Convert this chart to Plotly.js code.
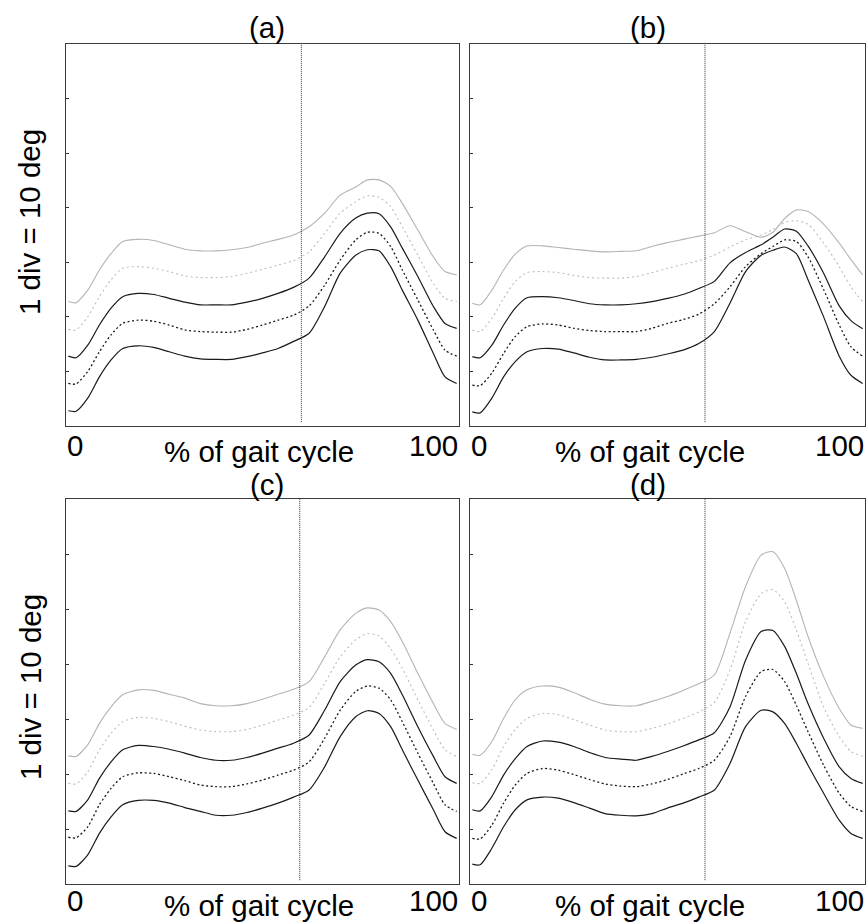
<!DOCTYPE html>
<html>
<head>
<meta charset="utf-8">
<script src="https://cdn.plot.ly/plotly-3.0.1.min.js"></script>
<style>html,body{margin:0;padding:0;background:#fff;}#chart{width:866px;height:922px;}</style>
</head>
<body>
<div id="chart"></div>
<script>
// % of gait cycle sample points
const pct = [0, 2, 5, 8, 11, 14, 18, 22, 26, 30, 34, 38, 42, 46, 50, 54, 58, 62, 66, 70, 74, 77, 80, 83, 86, 90, 94, 97, 100];

// Panel (a)
const a_grayUpper  = [22.8,22.6,24.9,28.6,31.6,33.8,34.2,34.0,33.2,32.4,32.1,32.1,32.3,32.7,33.5,34.2,35.0,36.5,39.0,42.3,43.8,45.1,45.1,43.9,40.8,35.9,31.0,28.3,27.7];
const a_grayMean   = [17.7,17.6,20.0,23.7,26.8,28.9,29.2,28.9,28.3,27.5,27.2,27.2,27.4,28.0,28.7,29.5,30.3,31.9,35.3,39.0,41.1,42.2,41.9,40.2,36.5,31.3,26.1,23.4,22.8];
const a_blackUpper = [12.8,12.5,14.8,18.5,21.6,23.7,24.3,24.1,23.4,22.7,22.2,22.2,22.2,22.7,23.4,24.3,25.4,27.1,31.0,35.3,38.1,39.0,38.9,36.5,32.6,27.4,21.9,18.8,17.9];
const a_blackMean  = [7.8,7.7,10.0,13.6,16.7,18.8,19.4,19.2,18.5,17.6,17.3,17.2,17.2,17.7,18.5,19.4,20.3,22.0,25.8,30.4,34.1,35.5,35.3,32.9,28.6,23.1,17.6,13.9,12.8];
const a_blackLower = [2.8,2.7,5.1,9.0,12.1,14.2,14.7,14.4,13.6,12.8,12.3,12.2,12.2,12.7,13.4,14.2,15.5,17.0,21.9,28.0,31.3,32.3,32.1,29.2,24.9,19.4,13.3,9.0,7.8];

// Panel (b)
const b_grayUpper  = [22.5,22.2,24.9,28.6,31.5,33.0,33.0,32.7,32.4,32.1,31.9,32.0,32.1,32.9,33.6,34.2,34.8,35.4,36.7,35.6,34.6,35.5,38.0,39.6,39.3,37.0,33.5,30.5,27.7];
const b_grayMean   = [17.6,17.3,19.7,23.4,26.5,28.1,28.3,28.1,27.6,27.2,27.1,27.1,27.4,28.1,28.9,29.6,30.3,31.3,32.8,34.1,35.0,36.0,37.3,37.6,37.0,33.5,29.2,25.5,22.8];
const b_blackUpper = [12.7,12.5,14.8,18.5,21.6,23.5,23.7,23.5,23.0,22.4,22.2,22.2,22.4,22.8,23.4,24.1,25.2,26.5,29.9,31.8,33.2,34.6,36.1,35.7,33.0,28.0,22.0,19.3,17.8];
const b_blackMean  = [7.5,7.4,9.7,13.3,16.4,18.2,18.7,18.5,17.9,17.5,17.3,17.3,17.3,17.9,18.8,19.5,20.5,22.4,25.5,29.2,31.6,32.9,34.1,33.8,31.0,25.0,18.5,14.5,12.8];
const b_blackLower = [2.6,2.4,5.1,9.0,11.8,13.6,14.2,14.1,13.4,12.6,12.1,12.1,12.2,12.6,13.2,13.9,15.1,17.3,22.5,28.3,31.3,32.2,32.8,31.6,26.8,20.0,12.8,9.3,7.8];

// Panel (c)
const c_grayUpper  = [23.3,23.2,25.3,29.2,32.2,34.4,35.3,35.2,34.5,33.8,32.8,32.4,32.4,32.8,33.6,34.5,35.4,36.8,41.3,46.2,49.2,50.2,49.8,47.7,44.1,38.3,32.8,29.2,28.1];
const c_grayMean   = [18.3,18.2,20.4,24.4,27.4,29.5,30.3,30.1,29.5,28.7,28.0,27.7,27.7,28.1,28.9,29.8,30.7,32.1,36.5,41.3,44.4,45.5,45.1,42.8,39.2,33.5,28.0,24.4,23.2];
const c_blackUpper = [13.3,13.2,15.3,19.2,22.2,24.4,25.2,25.0,24.5,23.8,23.0,22.5,22.5,23.0,23.8,24.7,25.6,27.1,31.6,36.8,39.8,40.8,40.4,38.3,34.4,28.6,23.2,19.5,18.3];
const c_blackMean  = [8.5,8.4,10.4,14.4,17.4,19.5,20.2,20.1,19.5,18.8,18.0,17.7,17.7,18.2,18.9,19.8,20.7,22.2,26.5,31.6,35.0,36.0,35.6,33.5,29.5,23.8,18.3,14.4,13.2];
const c_blackLower = [3.3,3.2,5.3,9.2,12.2,14.4,15.2,15.2,14.7,13.9,13.2,12.5,12.5,13.0,13.8,14.7,15.8,17.1,21.3,26.8,30.4,31.5,31.0,28.6,24.4,18.9,13.5,9.5,8.3];

// Panel (d)
const d_grayUpper  = [23.6,23.4,25.9,30.1,33.5,35.3,36.0,35.8,34.8,33.6,32.7,32.4,32.4,33.2,34.1,35.2,36.4,38.0,45.6,54.1,59.8,60.4,57.4,51.6,45.0,37.7,31.9,28.9,28.3];
const d_grayMean   = [18.4,18.3,20.8,25.0,28.1,30.1,31.0,30.8,29.9,28.9,28.0,27.7,27.7,28.3,29.1,30.1,31.3,33.0,38.9,47.7,52.8,53.5,51.3,46.2,40.1,32.2,26.8,24.1,23.2];
const d_blackUpper = [13.5,13.3,15.9,19.8,22.8,25.0,26.0,25.8,25.0,23.9,23.0,22.7,22.5,23.2,24.1,25.1,26.2,27.5,32.2,40.7,45.9,46.1,43.2,38.3,32.8,26.5,21.3,19.2,18.3];
const d_blackMean  = [8.3,8.2,10.7,14.7,18.0,20.1,21.0,20.7,19.9,19.0,18.2,17.8,17.7,18.2,19.0,20.0,21.0,22.5,26.8,34.1,38.6,39.0,36.8,32.5,27.7,21.6,16.5,14.1,13.2];
const d_blackLower = [3.6,3.5,6.5,10.4,13.5,15.3,15.8,15.6,14.8,13.8,12.8,12.5,12.4,12.8,13.8,14.7,15.8,17.1,21.9,28.6,31.6,31.3,29.2,25.6,21.6,16.5,11.6,9.2,8.3];

// toe-off (vertical dotted line), % of gait cycle
const toeOff = [60.0, 59.6, 59.6, 59.6];
const panelLabels = ['(a)', '(b)', '(c)', '(d)'];
const yTicks = [10, 20, 30, 40, 50, 60];
const xTickText = ['0', '100'];
const yTitle = '1 div = 10 deg';
const xTitle = '% of gait cycle';

const panels = [
  [a_grayUpper, a_grayMean, a_blackUpper, a_blackMean, a_blackLower],
  [b_grayUpper, b_grayMean, b_blackUpper, b_blackMean, b_blackLower],
  [c_grayUpper, c_grayMean, c_blackUpper, c_blackMean, c_blackLower],
  [d_grayUpper, d_grayMean, d_blackUpper, d_blackMean, d_blackLower]
];
const styles = [
  {color: '#b4b4b4', width: 1.1, dash: 'solid'},
  {color: '#bcbcbc', width: 1.1, dash: '2px,3px'},
  {color: '#1a1a1a', width: 1.2, dash: 'solid'},
  {color: '#1a1a1a', width: 1.3, dash: '2px,2.5px'},
  {color: '#1a1a1a', width: 1.2, dash: 'solid'}
];

const W = 866, H = 922;
// pixel boxes of the four plot areas [left, right, top, bottom]
const boxes = [
  [66, 459, 44, 426],
  [470, 865, 44, 426],
  [66, 459, 499, 884],
  [470, 865, 499, 884]
];
const FONT = 'Liberation Sans, Arial, sans-serif';
const FS = 29.5;

const traces = [];
const layout = {
  width: W, height: H,
  margin: {l: 0, r: 0, t: 0, b: 0},
  paper_bgcolor: '#fff', plot_bgcolor: '#fff',
  showlegend: false,
  annotations: [],
  shapes: []
};

panels.forEach((series, i) => {
  const n = i + 1;
  const xa = n === 1 ? 'x' : 'x' + n;
  const ya = n === 1 ? 'y' : 'y' + n;
  const b = boxes[i];
  const top = i < 2;
  series.forEach((vals, k) => {
    traces.push({
      x: pct, y: vals, xaxis: xa, yaxis: ya, type: 'scatter', mode: 'lines',
      line: {color: styles[k].color, width: styles[k].width, dash: styles[k].dash, shape: 'spline', smoothing: 0.7},
      hoverinfo: 'skip'
    });
  });
  // vertical toe-off line
  traces.push({
    x: [toeOff[i], toeOff[i]], y: [0.7, 70], xaxis: xa, yaxis: ya, type: 'scatter', mode: 'lines',
    line: {color: '#333', width: 1, dash: '1px,1px'}, hoverinfo: 'skip'
  });
  layout['xaxis' + (n === 1 ? '' : n)] = {
    domain: [b[0] / W, b[1] / W], range: [-0.6, 100.6], anchor: ya,
    showgrid: false, zeroline: false, showticklabels: false, ticks: '',
    showline: true, mirror: true, linecolor: '#3a3a3a', linewidth: 1.3
  };
  layout['yaxis' + (n === 1 ? '' : n)] = {
    domain: [1 - b[3] / H, 1 - b[2] / H], range: [0, 70], anchor: xa,
    showgrid: false, zeroline: false, showticklabels: false,
    tickmode: 'array', tickvals: yTicks, ticks: 'inside', ticklen: 3, tickcolor: '#333', tickwidth: 1,
    showline: true, mirror: true, linecolor: '#3a3a3a', linewidth: 1.3
  };
  // panel label
  layout.annotations.push({
    text: panelLabels[i], xref: 'paper', yref: 'paper',
    x: (i % 2 === 0 ? 267 : 648) / W, y: 1 - (top ? 27 : 484) / H,
    xanchor: 'center', yanchor: 'middle', showarrow: false,
    font: {family: FONT, size: FS, color: '#000'}
  });
  // x tick labels
  const tickY = 1 - (b[3] + (top ? 19 : 16)) / H;
  layout.annotations.push({
    text: xTickText[0], xref: xa, yref: 'paper', x: 0, y: tickY,
    xanchor: 'left', yanchor: 'middle', showarrow: false, xshift: -3,
    font: {family: FONT, size: FS, color: '#000'}
  });
  layout.annotations.push({
    text: xTickText[1], xref: xa, yref: 'paper', x: 100, y: tickY,
    xanchor: 'right', yanchor: 'middle', showarrow: false, xshift: 3,
    font: {family: FONT, size: FS, color: '#000'}
  });
  // x title
  layout.annotations.push({
    text: xTitle, xref: 'paper', yref: 'paper',
    x: (i % 2 === 0 ? 259 : 650) / W, y: 1 - (b[3] + (top ? 25 : 21)) / H,
    xanchor: 'center', yanchor: 'middle', showarrow: false,
    font: {family: FONT, size: FS, color: '#000'}
  });
  // y title on left panels
  if (i % 2 === 0) {
    layout.annotations.push({
      text: yTitle, xref: 'paper', yref: 'paper',
      x: 30 / W, y: 1 - (top ? 222 : 687) / H,
      xanchor: 'center', yanchor: 'middle', showarrow: false, textangle: -90,
      font: {family: FONT, size: FS, color: '#000'}
    });
  }
});

Plotly.newPlot('chart', traces, layout, {staticPlot: true, displayModeBar: false});
</script>
</body>
</html>
